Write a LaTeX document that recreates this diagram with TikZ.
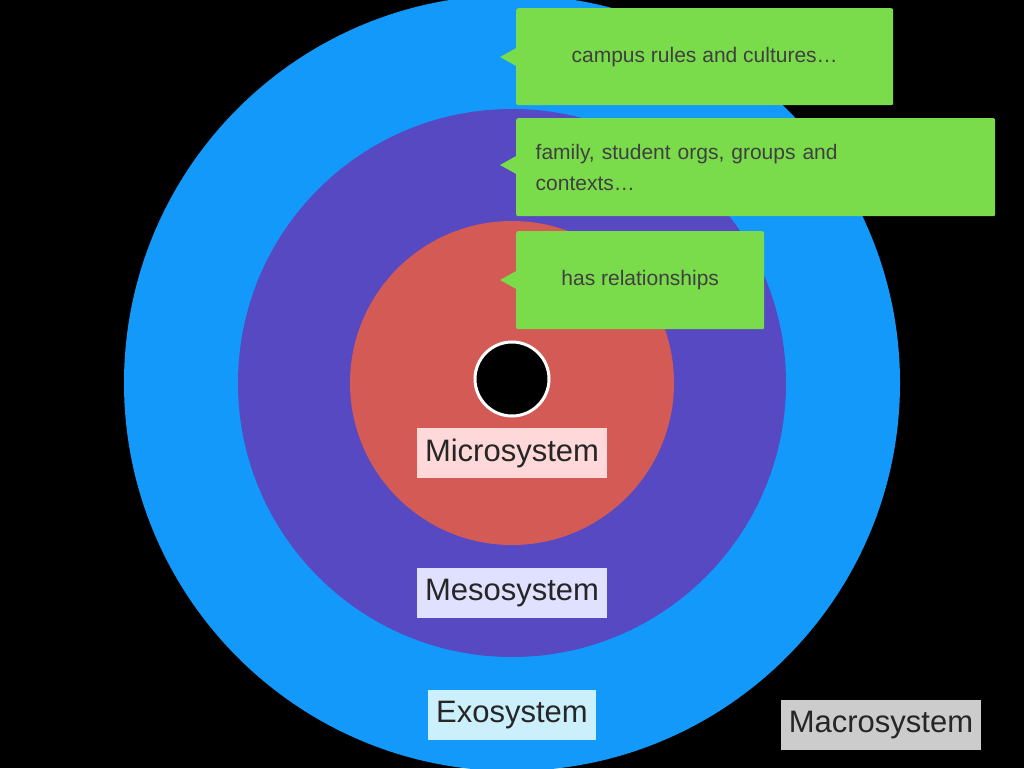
\documentclass[tikz,border=0pt]{standalone}
\usepackage{fontspec}
\setmainfont{Liberation Sans}
\definecolor{exoblue}{HTML}{1399FA}
\definecolor{mesopurple}{HTML}{5649C1}
\definecolor{microred}{HTML}{D35A55}
\definecolor{calloutgreen}{HTML}{7ADB4B}
\begin{document}
\begin{tikzpicture}[x=1pt,y=-1pt]
\tikzstyle{ring label}=[font=\fontsize{31}{36}\selectfont, inner xsep=8pt, minimum height=50pt, text=black!85]
\tikzstyle{callout}=[fill=calloutgreen, rounded corners=2pt, anchor=north west, align=left, font=\fontsize{21}{31}\selectfont, text=black!75, inner xsep=14pt]
\fill[black] (0,0) rectangle (1024,768);
\useasboundingbox (0,0) rectangle (1024,768);
  \fill[exoblue] (512,383) circle (388);
  \fill[mesopurple] (512,383) circle (274);
  \fill[microred] (512,383) circle (162);
  \node[circle, fill=black, draw=white, line width=3pt, minimum size=74pt] (self) at (512,379) {};
  \node[ring label, fill=red!15!white] (micro) at (512,453) {Microsystem};
  \node[ring label, fill=blue!12!white] (meso) at (512,593) {Mesosystem};
  \node[ring label, fill=cyan!20!white] (exo) at (512,715) {Exosystem};
  \node[ring label, fill=black!20] (macro) at (881,725) {Macrosystem};
  % callouts
  \fill[calloutgreen] (518,47) -- (500,57) -- (518,67) -- cycle;
  \node[callout, minimum width=377pt, minimum height=97pt, text height=16pt] (rules) at (516,8) {campus rules and cultures\ldots};
  \fill[calloutgreen] (518,155) -- (500,165) -- (518,175) -- cycle;
  \node[callout, minimum width=479pt, minimum height=98pt, text width=440pt] (family) at (516,118) {family, student orgs, groups and\\contexts\ldots};
  \fill[calloutgreen] (518,270) -- (500,280) -- (518,290) -- cycle;
  \node[callout, minimum width=248pt, minimum height=98pt] (rel) at (516,231) {has relationships};
\end{tikzpicture}
\end{document}
